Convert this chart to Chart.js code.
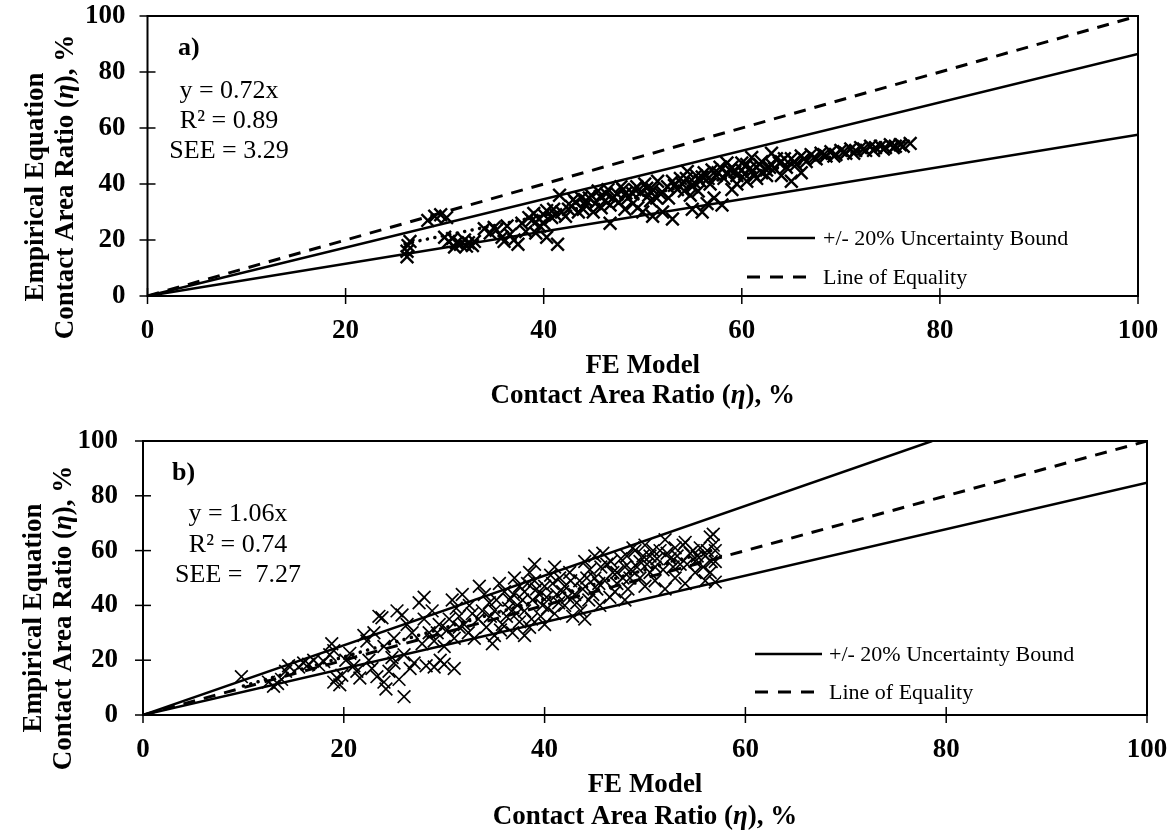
<!DOCTYPE html>
<html>
<head>
<meta charset="utf-8">
<script src="https://cdn.jsdelivr.net/npm/chart.js@4.4.1/dist/chart.umd.min.js"></script>
<style>
  html, body { margin: 0; padding: 0; background: #fff; }
  .panel { position: relative; width: 1173px; }
  #panelA { height: 420px; }
  #panelB { height: 418px; }
</style>
</head>
<body>
<div class="panel" id="panelA"><canvas id="chartA"></canvas></div>
<div class="panel" id="panelB"><canvas id="chartB"></canvas></div>

<script>
// =========================
// DATA
// =========================

const axisTicks = [0, 20, 40, 60, 80, 100];

const xTitle = ["FE Model", "Contact Area Ratio (", "η", "), %"];
const yTitle = ["Empirical Equation", "Contact Area Ratio (", "η", "), %"];

const legendLabels = ["+/- 20% Uncertainty Bound", "Line of Equality"];

// panel a) [FE model, empirical equation]
const scatterA = [
  [26.2,14],[26.2,16],[26.3,18],[26.5,19.5],
  [28.3,27],[29,28.5],[29.6,29],[30.2,28],
  [30,21],[30.4,19.5],[30.8,20.5],[31.2,19],[31.6,18.5],[32,20],[32.4,19],[32.8,18],[31,17.5],[32.2,17.8],[33,19.5],
  [34,24],[34.6,22.5],[35.2,23.5],[35.8,21],[36.3,25],[36.6,22],[37,20],[37.4,18.5],[36,19.5],[37.8,26],[38.2,23],[35,24.5],
  [38.5,28],[39,29.5],[39.5,27.5],[40,29],[40.3,30.5],[40.8,28],[41.2,29],[41.8,30],[42.2,28.5],[39.2,22.5],[40.3,21],[41.4,18.5],[41.6,36],[40,26],[39.6,25],[38.8,27],[41,31],
  [42.8,32],[43.2,33.5],[43.8,35],[44.3,34],[44.8,36],[45.2,33],[45.7,35.5],[46.2,34],[46.7,32.5],[47,35],[44,31],[45,30],[46.7,26],[47.4,36.5],[43.5,30],[45.5,37.5],[46.5,38],
  [42.5,31],[43,34.5],[44.2,32.5],[45.8,31.5],[46.3,36.5],[47.6,33.5],[44.6,35],[47.8,39],
  [48,38],[48.5,35],[49,36.5],[49.4,39],[49.8,37],[50.2,40],[50.6,36],[51,38],[51.4,35],[48.2,31],[49,33],[50,30],[51,28.5],[52,30],[53,27.5],[52,37],[52.5,39],[53,41],[53.5,38],[51.5,41],[49.5,31.5],
  [48.3,36.8],[49.2,38],[50.4,38.5],[50.8,34],[51.8,36.5],[52.6,35],[53.2,39.5],[53.8,42],
  [54,40],[54.4,42],[55,39],[55.4,43],[55.8,41],[56.2,44],[56.6,42],[57,45],[57.4,43],[57.8,46],[54.8,36],[55.6,37.5],[56.5,33],[57.2,35],[58,32.5],[55,31],[56,30],[54.5,44.5],
  [54.2,37.5],[55.2,40.5],[56,42.5],[56.8,40],[57.6,44],[58.2,42],
  [58.5,44],[59,46],[59.5,43],[60,45],[60.5,47],[61,44.5],[61.5,46],[62,48],[62.5,45],[63,47],[63.5,49],[59.5,40],[60.5,41],[61.5,42],[62.5,43],[59,38],[64,43],[65,41],[66,44],[60,47.5],[62,44],[63,51],[61,49.5],[58.5,47.5],
  [58.8,45],[59.3,44.5],[60.3,43.5],[60.8,45.5],[61.3,43],[61.8,47],[62.8,46],[63.3,45.5],[63.8,47.5],
  [64,48],[64.5,46],[65,49],[65.5,47],[66,50],[66.5,48],[67,50.5],[67.5,49],[68,51],[68.5,50],[69,51.5],[69.5,50.5],[70,52],[70.5,51],[71,52.5],[71.5,52],[72,53],[72.5,52],[73,53.5],[73.5,53],[74,53.5],[74.5,53],[75,54],[75.5,53.5],[76,54],[77,54.5],
  [64.3,49],[65.3,48],[66.3,49],[67.3,49.5],[68.3,50.5],[69.3,50],[70.3,51.5],[71.3,51],[72.3,52.5],[73.3,52],[74.3,52.5],[75.3,53],[76.3,53.5]
];

const upperA = [[0,0],[100,86.4]];
const lowerA = [[0,0],[100,57.6]];
const equalityA = [[0,0],[100,100]];
const fitA = [[26,18.7],[77,55.4]];
const statsA = ["y = 0.72x", "R² = 0.89", "SEE = 3.29"];

// panel b) [FE model, empirical equation]
const scatterB = [
  [9.8,14],[12.5,12],[13,10.5],[13.4,11.5],[13.8,13],[14.2,16],[14.5,18],[15.5,17.5],[16,19],[16.5,18.5],[17,20],[17.5,18.2],[18,19.5],[18.6,22],[18.8,26],[19,23.5],[19,12],[19.3,13.5],[19.6,11],[19.8,14.5],
  [20.2,20],[20.6,22.5],[21,18],[21.3,16],[21.6,13.5],[22,29],[22.3,27],[22.5,20],[22.8,17],[23,30],[23.3,14],[23.5,36],[23.8,35.5],[24,12],[24.2,9.5],[24.5,16],[24.8,21],[25,19],[25.3,38],[25.5,13],[25.8,36.5],[26,22],[26,6.7],[26.3,33],[26.6,17],[27,19],[25,28],[24,25],
  [27.5,41],[28,43],[28,35],[28.2,18],[28.5,30],[28.8,38],[29,27],[29,17.5],[29.5,33],[29.6,20],[30,25],[30,18.5],[30.3,31],[30.8,42],[31,17],[31,28],[31.2,39],[31.5,36],[31.8,44],[32,33],[32.4,30],[32.5,40],
  [31.5,32],[32.8,37],[30.5,35],[29.3,30],[27.8,26],[26.8,30],
  [33,28],[33.4,35],[33.5,47],[34,44],[34.2,32],[34.5,41],[34.8,26],[35,38],[35,29],[35.5,48],[35.8,33],[36,45],[36.2,36],[36.5,42],[36.8,30],[37,50],[37.3,40],[37.5,34],[37.5,47],
  [33.8,38],[34.6,36],[35.2,42],[35.6,31],[36.4,39],[36.9,44],[37.2,37],[37.8,42],
  [38,45],[38,38],[38,29],[38.5,52],[38.5,32],[38.8,42],[39,49],[39,55],[39.5,44],[39.6,36],[40,47],[40,33],[40.3,39],[40.6,51],[41,54],[41,37],[41.2,44],
  [38.3,48],[38.7,35],[39.2,46],[39.8,40],[40.2,43],[40.8,48],
  [41.5,50],[42,47],[42,40],[42.5,52],[42.8,36],[43,44],[43.5,49],[43.6,38],[44,56],[44,35],[44.4,42],[44.5,53],[45,58],[45.2,46],[45.5,40],[45,50],
  [41.4,41],[41.8,45],[42.3,43],[42.6,49],[43.2,41],[43.8,46],[44.2,50],[44.8,44],[45.4,48],[45.6,54],
  [45.8,59],[46.2,55],[46.5,43],[46.8,52],[47,45],[47.2,48],[47.6,57],[48,54],[48,42],[48.3,46],[48.5,50],[48.8,61],
  [46,49],[46.6,56],[47.2,52],[47.8,50],[48.2,58],[48.6,53],
  [49,60],[49.5,56],[49.5,50],[50,62],[50,47],[50.5,58],[50.5,52],[51,54],[51,49],[51.5,60],[52,64],[52,46],[52.5,57],[53,61],[53,50],[53.5,55],[54,63],[54,48],[54.5,59],[55,56],[55,52],[55.5,61],[56,58],[56,49],[56.5,65],[56.5,52],[56.8,62],[57,56],[57,48.5],
  [49.2,54],[49.8,58],[50.2,55],[50.8,60],[51.2,57],[51.8,53],[52.2,59],[52.8,54],[53.2,58],[53.8,62],[54.2,55],[54.8,60],[55.2,58],[55.8,54],[56.2,60],[56.6,56],[57,60],[56.8,66]
];

const upperB = [[0,0],[78.6,100]];
const lowerB = [[0,0],[100,84.8]];
const equalityB = [[0,0],[100,100]];
const fitB = [[10,10.6],[57,60.4]];
const statsB = ["y = 1.06x", "R² = 0.74", "SEE =  7.27"];


// =========================
// COMMON CONFIG
// =========================

const SERIF = "'Liberation Serif', 'Times New Roman', serif";

function toPoints(pairs) {
  return pairs.map(p => ({ x: p[0], y: p[1] }));
}

function lineDataset(pairs, style) {
  return Object.assign({
    data: toPoints(pairs),
    showLine: true,
    borderColor: "#000",
    pointRadius: 0,
    fill: false,
    order: 1
  }, style);
}

const solidStyle = { borderWidth: 2.5 };
const dashStyle = { borderWidth: 3, borderDash: [12, 9] };
const dotStyle = { borderWidth: 3.5, borderDash: [0.1, 7.5], borderCapStyle: "round" };

// keep the plot area exactly where the layout padding puts it
function noScalePadding(s) {
  s.paddingTop = 0;
  s.paddingBottom = 0;
  s.paddingLeft = 0;
  s.paddingRight = 0;
}


// =========================
// DECORATION PLUGIN
// =========================

function drawMixed(ctx, parts, cx, y) {
  // parts: [normal, italic, normal] around the eta
  const fonts = [
    "bold 27px " + SERIF,
    "italic bold 27px " + SERIF,
    "bold 27px " + SERIF
  ];
  const widths = parts.map((t, i) => {
    ctx.font = fonts[i];
    return ctx.measureText(t).width;
  });
  let x = cx - widths.reduce((a, b) => a + b, 0) / 2;
  ctx.textAlign = "left";
  parts.forEach((t, i) => {
    ctx.font = fonts[i];
    ctx.fillText(t, x, y);
    x += widths[i];
  });
}

const panelDecor = {
  id: "panelDecor",
  afterDraw(chart, args, opts) {
    const ctx = chart.ctx;
    const area = chart.chartArea;
    const xs = chart.scales.x;
    const ys = chart.scales.y;

    ctx.save();
    ctx.strokeStyle = "#000";
    ctx.fillStyle = "#000";
    ctx.setLineDash([]);

    // frame
    ctx.lineWidth = 2;
    ctx.strokeRect(area.left, area.top, area.right - area.left, area.bottom - area.top);

    // tick marks crossing the axes
    ctx.lineWidth = 1.5;
    xs.ticks.forEach(t => {
      const px = xs.getPixelForValue(t.value);
      ctx.beginPath();
      ctx.moveTo(px, area.bottom - 8);
      ctx.lineTo(px, area.bottom + 8);
      ctx.stroke();
    });
    ys.ticks.forEach(t => {
      const py = ys.getPixelForValue(t.value);
      ctx.beginPath();
      ctx.moveTo(area.left - 8, py);
      ctx.lineTo(area.left + 8, py);
      ctx.stroke();
    });

    // panel tag and fit statistics
    ctx.textBaseline = "alphabetic";
    ctx.textAlign = "left";
    ctx.font = "bold 26px " + SERIF;
    ctx.fillText(opts.tag, opts.tagX, opts.tagY);

    ctx.textAlign = "center";
    ctx.font = "26px " + SERIF;
    opts.stats.forEach((s, i) => {
      ctx.fillText(s, opts.statsX, opts.statsY[i]);
    });

    // legend inside the plot
    const legendSets = [chart.data.datasets[1], chart.data.datasets[3]];
    legendSets.forEach((ds, i) => {
      const ly = opts.legendY[i];
      ctx.lineWidth = ds.borderWidth;
      ctx.setLineDash(ds.borderDash ? [13, 10] : []);
      ctx.beginPath();
      ctx.moveTo(opts.legendX[0], ly);
      ctx.lineTo(opts.legendX[1], ly);
      ctx.stroke();
      ctx.setLineDash([]);
      ctx.font = "22px " + SERIF;
      ctx.textAlign = "left";
      ctx.textBaseline = "middle";
      ctx.fillText(legendLabels[i], opts.legendTextX, ly + 1);
    });

    // axis titles
    ctx.textBaseline = "alphabetic";
    const cx = (area.left + area.right) / 2;
    ctx.textAlign = "center";
    ctx.font = "bold 27px " + SERIF;
    ctx.fillText(xTitle[0], cx, opts.xTitleY[0]);
    drawMixed(ctx, xTitle.slice(1), cx, opts.xTitleY[1]);

    ctx.save();
    ctx.translate(opts.yTitleX[0], opts.yTitleY);
    ctx.rotate(-Math.PI / 2);
    ctx.textAlign = "center";
    ctx.font = "bold 27px " + SERIF;
    ctx.fillText(yTitle[0], 0, 0);
    ctx.restore();

    ctx.save();
    ctx.translate(opts.yTitleX[1], opts.yTitleY);
    ctx.rotate(-Math.PI / 2);
    drawMixed(ctx, yTitle.slice(1), 0, 0);
    ctx.restore();

    ctx.restore();
  }
};


// =========================
// PANEL BUILDER
// =========================

function renderPanel(canvasId, cfg) {

  const canvas = document.getElementById(canvasId);
  if (!canvas || typeof Chart === "undefined") return;

  const tickFont = { family: SERIF, size: 27, weight: "bold", lineHeight: 1.2 };

  return new Chart(canvas, {
    type: "scatter",
    data: {
      datasets: [
        {
          data: toPoints(cfg.scatter),
          pointStyle: "crossRot",
          pointRadius: 9,
          pointBorderWidth: cfg.markerWidth,
          pointBorderColor: "#000",
          pointBackgroundColor: "#000",
          showLine: false,
          order: 0
        },
        lineDataset(cfg.upper, solidStyle),
        lineDataset(cfg.lower, solidStyle),
        lineDataset(cfg.equality, dashStyle),
        lineDataset(cfg.fit, dotStyle)
      ]
    },
    options: {
      responsive: true,
      maintainAspectRatio: false,
      animation: false,
      devicePixelRatio: 1,
      events: [],
      layout: { padding: cfg.padding },
      plugins: {
        legend: { display: false },
        tooltip: { enabled: false },
        panelDecor: cfg.decor
      },
      scales: {
        x: {
          type: "linear",
          min: 0,
          max: 100,
          afterBuildTicks: s => { s.ticks = axisTicks.map(v => ({ value: v })); },
          afterFit: s => { s.height = cfg.xHeight; noScalePadding(s); },
          grid: { display: false, drawTicks: false },
          border: { display: false },
          ticks: { color: "#000", font: tickFont, padding: cfg.xPad, maxRotation: 0 }
        },
        y: {
          type: "linear",
          min: 0,
          max: 100,
          afterBuildTicks: s => { s.ticks = axisTicks.map(v => ({ value: v })); },
          afterFit: s => { s.width = cfg.yWidth; noScalePadding(s); },
          grid: { display: false, drawTicks: false },
          border: { display: false },
          ticks: { color: "#000", font: tickFont, padding: cfg.yPad }
        }
      }
    },
    plugins: [panelDecor]
  });
}


// =========================
// MASTER RENDER
// =========================

renderPanel("chartA", {
  scatter: scatterA,
  upper: upperA,
  lower: lowerA,
  equality: equalityA,
  fit: fitA,
  markerWidth: 2.4,
  padding: { left: 0, right: 35, top: 16, bottom: 0 },
  xHeight: 124,
  yWidth: 147.5,
  xPad: 19,
  yPad: 22,
  decor: {
    tag: "a)", tagX: 178, tagY: 55,
    stats: statsA, statsX: 229, statsY: [98, 128, 158],
    legendX: [747, 815], legendY: [238, 277], legendTextX: 823,
    xTitleY: [373, 403],
    yTitleX: [43, 73], yTitleY: 187
  }
});

renderPanel("chartB", {
  scatter: scatterB,
  upper: upperB,
  lower: lowerB,
  equality: equalityB,
  fit: fitB,
  markerWidth: 1.7,
  padding: { left: 0, right: 26, top: 21, bottom: 0 },
  xHeight: 123,
  yWidth: 143,
  xPad: 19,
  yPad: 25,
  decor: {
    tag: "b)", tagX: 172, tagY: 60,
    stats: statsB, statsX: 238, statsY: [101, 132, 162],
    legendX: [755, 822], legendY: [234, 272], legendTextX: 829,
    xTitleY: [372, 404],
    yTitleX: [41, 71], yTitleY: 198
  }
});
</script>
</body>
</html>
